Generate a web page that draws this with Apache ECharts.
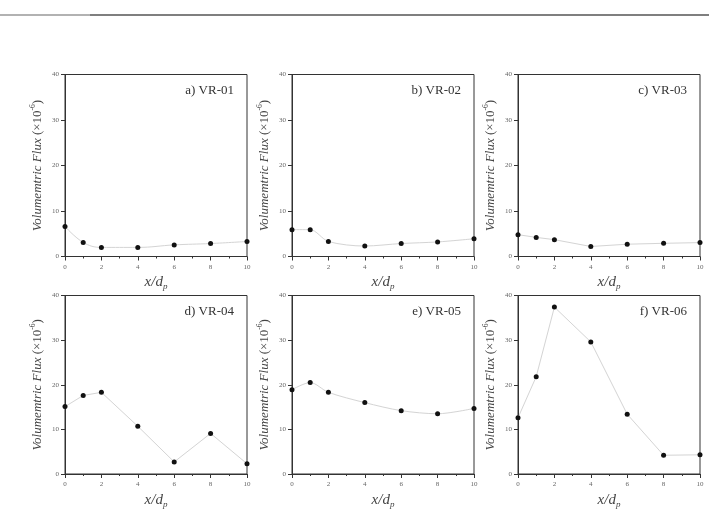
<!DOCTYPE html>
<html>
<head>
<meta charset="utf-8">
<script src="https://cdn.jsdelivr.net/npm/echarts@6/dist/echarts.min.js"></script>
<style>
  html, body { margin: 0; padding: 0; background: #fff; }
  #chart { width: 711px; height: 510px; }
</style>
</head>
<body>
<div id="chart"></div>
<script>
// x positions (x/d_p) shared by all runs
const xPositions = [0, 1, 2, 4, 6, 8, 10];

// volumetric flux (x10^-6) per run
const vr01 = [6.6, 3.1, 2.0, 2.0, 2.55, 2.85, 3.3];
const vr02 = [5.9, 5.9, 3.3, 2.3, 2.85, 3.2, 3.9];
const vr03 = [4.8, 4.2, 3.7, 2.2, 2.7, 2.9, 3.05];
const vr04 = [15.1, 17.6, 18.3, 10.7, 2.7, 9.1, 2.3];
const vr05 = [18.9, 20.5, 18.3, 16.0, 14.2, 13.5, 14.7];
const vr06 = [12.6, 21.8, 37.4, 29.6, 13.4, 4.2, 4.3];

const panelTitles = ['a) VR-01', 'b) VR-02', 'c) VR-03', 'd) VR-04', 'e) VR-05', 'f) VR-06'];
const runs = [vr01, vr02, vr03, vr04, vr05, vr06];

const smoothing = [0.4, 0.3, 0, 0, 0.3, 0];
const lefts = [65, 292, 518];
const tops = [74.5, 295.5];
const serif = '"Liberation Serif", "DejaVu Serif", serif';

const grid = [], xAxis = [], yAxis = [], series = [], title = [];

runs.forEach((vals, i) => {
  const col = i % 3, row = Math.floor(i / 3);
  grid.push({
    left: lefts[col], top: tops[row], width: 182, height: 182,
    show: true, borderColor: '#333', borderWidth: 1, backgroundColor: 'transparent'
  });
  xAxis.push({
    gridIndex: i, type: 'value', min: 0, max: 10, interval: 2,
    name: '{i|x/d}{sub|p}', nameLocation: 'middle', nameGap: 17,
    nameTextStyle: {
      rich: {
        i: { fontFamily: serif, fontStyle: 'italic', fontSize: 15, color: '#444', lineHeight: 18 },
        sub: { fontFamily: serif, fontStyle: 'italic', fontSize: 9, color: '#444', verticalAlign: 'bottom', lineHeight: 12 }
      }
    },
    axisLine: { onZero: false, lineStyle: { color: '#333', width: 1 } },
    axisTick: { length: 4, lineStyle: { color: '#333' } },
    minorTick: { show: true, splitNumber: 2, length: 2, lineStyle: { color: '#333' } },
    axisLabel: { fontFamily: serif, fontSize: 7, color: '#666', margin: 7 },
    splitLine: { show: false }
  });
  yAxis.push({
    gridIndex: i, type: 'value', min: 0, max: 40, interval: 10,
    name: '{i|Volumemtric Flux }{n|(×10}{s|-6}{n|)}', nameLocation: 'middle', nameGap: 19,
    nameTextStyle: {
      rich: {
        i: { fontFamily: serif, fontStyle: 'italic', fontSize: 13, color: '#444', lineHeight: 17 },
        n: { fontFamily: serif, fontSize: 13, color: '#444', lineHeight: 17 },
        s: { fontFamily: serif, fontSize: 7.5, color: '#444', verticalAlign: 'top', lineHeight: 17 }
      }
    },
    axisLine: { onZero: false, lineStyle: { color: '#333', width: 1 } },
    axisTick: { length: 4, lineStyle: { color: '#333' } },
    axisLabel: { fontFamily: serif, fontSize: 7, color: '#666', margin: 6 },
    splitLine: { show: false }
  });
  series.push({
    type: 'line', xAxisIndex: i, yAxisIndex: i,
    data: xPositions.map((x, k) => [x, vals[k]]),
    smooth: smoothing[i],
    symbol: 'circle', symbolSize: 5,
    itemStyle: { color: '#111' },
    lineStyle: { color: '#d4d4d4', width: 1 },
    animation: false
  });
  title.push({
    text: panelTitles[i],
    right: 711 - (lefts[col] + 182) + 8,
    top: tops[row] + 5,
    textStyle: { fontFamily: serif, fontSize: 13, fontWeight: 'normal', color: '#333' }
  });
});

const chart = echarts.init(document.getElementById('chart'));
chart.setOption({
  backgroundColor: '#fff',
  animation: false,
  title,
  grid,
  xAxis,
  yAxis,
  series,
  graphic: [
    { type: 'line', shape: { x1: 0, y1: 15, x2: 90, y2: 15 }, style: { stroke: '#999', lineWidth: 1.5 } },
    { type: 'line', shape: { x1: 90, y1: 15, x2: 709, y2: 15 }, style: { stroke: '#555', lineWidth: 1.5 } }
  ]
});
</script>
</body>
</html>
